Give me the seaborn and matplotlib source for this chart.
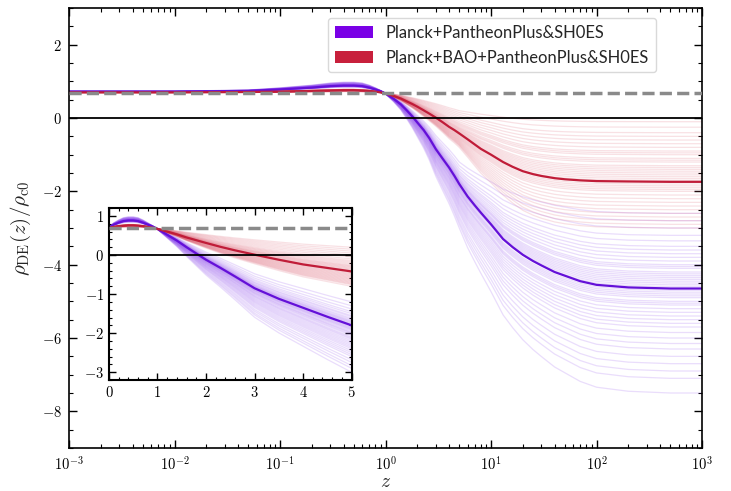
import numpy as np
import pandas as pd
import matplotlib
matplotlib.use("Agg")
import matplotlib.pyplot as plt
import seaborn as sns
from matplotlib.patches import Patch
from matplotlib.ticker import FuncFormatter, MultipleLocator, FixedLocator, NullFormatter

# ---------------- data ----------------
z_grid = [0.001, 0.01, 0.05, 0.1, 0.2, 0.3, 0.4, 0.5, 0.6, 0.7, 0.8, 0.9, 1.0,
          1.2, 1.4, 1.6, 1.8, 2.0, 2.3, 2.6, 3.0, 3.5, 4.0, 4.5, 5.0, 6.0, 7.0,
          8.0, 10.0, 13.0, 16.0, 20.0, 25.0, 30.0, 40.0, 50.0, 70.0, 100.0,
          200.0, 500.0, 1000.0]

purple_median = [0.72, 0.72, 0.74, 0.78, 0.83, 0.87, 0.885, 0.885, 0.87, 0.83,
                 0.78, 0.73, 0.67, 0.52, 0.37, 0.20, 0.04, -0.12, -0.33, -0.55,
                 -0.85, -1.12, -1.35, -1.58, -1.80, -2.14, -2.38, -2.58, -2.90,
                 -3.30, -3.52, -3.73, -3.90, -4.02, -4.20, -4.30, -4.45, -4.55,
                 -4.62, -4.65, -4.65]

red_median = [0.70, 0.70, 0.71, 0.72, 0.74, 0.75, 0.76, 0.76, 0.75, 0.74, 0.72,
              0.70, 0.67, 0.60, 0.53, 0.45, 0.38, 0.31, 0.21, 0.12, 0.01, -0.12,
              -0.24, -0.33, -0.42, -0.58, -0.72, -0.84, -1.00, -1.20, -1.33,
              -1.45, -1.53, -1.58, -1.64, -1.67, -1.70, -1.72, -1.73, -1.74, -1.74]

# posterior sample curves: value at z = 5 (inset) and high-z plateau (main panel)
purple_z5 = [-1.2, -1.3, -1.38, -1.45, -1.5, -1.55, -1.58, -1.62, -1.65, -1.68,
             -1.7, -1.72, -1.74, -1.76, -1.78, -1.8, -1.82, -1.84, -1.86, -1.88,
             -1.9, -1.92, -1.95, -1.98, -2.0, -2.03, -2.06, -2.1, -2.13, -2.16,
             -2.2, -2.24, -2.28, -2.32, -2.36, -2.4, -2.45, -2.5, -2.55, -2.6,
             -2.68, -2.75, -2.83, -2.9, -3.0]
purple_final = [-2.6, -2.8, -3.0, -3.2, -3.35, -3.5, -3.6, -3.7, -3.8, -3.9, -4.0,
                -4.05, -4.1, -4.2, -4.25, -4.3, -4.35, -4.4, -4.45, -4.5, -4.55,
                -4.6, -4.7, -4.75, -4.8, -4.85, -4.9, -5.0, -5.05, -5.1, -5.2,
                -5.3, -5.4, -5.5, -5.6, -5.7, -5.85, -6.0, -6.15, -6.3, -6.5,
                -6.7, -6.9, -7.1, -7.5]
red_z5 = [0.2, 0.15, 0.1, 0.05, 0.0, -0.05, -0.1, -0.14, -0.17, -0.2, -0.23,
          -0.26, -0.28, -0.3, -0.32, -0.34, -0.36, -0.38, -0.4, -0.42, -0.44,
          -0.46, -0.48, -0.5, -0.52, -0.54, -0.56, -0.58, -0.6, -0.62, -0.64,
          -0.66, -0.68, -0.7, -0.72, -0.74, -0.76, -0.8]
red_final = [-0.1, -0.25, -0.4, -0.5, -0.6, -0.7, -0.8, -0.9, -0.95, -1.0, -1.1,
             -1.15, -1.2, -1.3, -1.35, -1.4, -1.45, -1.5, -1.55, -1.6, -1.65,
             -1.7, -1.75, -1.8, -1.85, -1.9, -1.95, -2.0, -2.1, -2.2, -2.3, -2.4,
             -2.5, -2.6, -2.7, -2.8, -2.9, -3.0]

omega_de = 0.69
labels = ["Planck+PantheonPlus&SH0ES", "Planck+BAO+PantheonPlus&SH0ES"]
x_major = [1e-3, 1e-2, 1e-1, 1e0, 1e1, 1e2, 1e3]

# ---------------- build tables ----------------
z_arr = np.array(z_grid)
i5 = z_grid.index(5.0)


def samples_table(median, v5s, finals):
    med = np.array(median)
    rows = []
    for i, (v5, f) in enumerate(zip(v5s, finals)):
        s_lo = (v5 - omega_de) / (med[i5] - omega_de)
        lo = omega_de + (med - omega_de) * s_lo
        s_hi = (f - v5) / (med[-1] - med[i5])
        hi = v5 + (med - med[i5]) * s_hi
        vals = np.where(z_arr <= 5.0, lo, hi)
        rows.append(pd.DataFrame({"z": z_arr, "rho": vals, "sample": i}))
    return pd.concat(rows, ignore_index=True)


df_pur = samples_table(purple_median, purple_z5, purple_final)
df_red = samples_table(red_median, red_z5, red_final)
df_med = pd.DataFrame({"z": z_arr, "purple": purple_median, "red": red_median})

# ---------------- style ----------------
sns.set_theme(style="ticks")
plt.rcParams["font.family"] = ["DejaVu Serif"]
plt.rcParams["mathtext.fontset"] = "cm"

c_pur_light = "#8b45ee"
c_pur_med = "#6410d8"
c_red_light = "#d8465c"
c_red_med = "#c01c38"
c_pur_patch = "#7a00e6"
c_red_patch = "#c8203c"

fig = plt.figure(figsize=(7.31, 4.91), dpi=100)
ax = fig.add_axes([0.0944, 0.0876, 0.866, 0.896])


def draw(axis, zmax=None):
    dp, dr, dm = df_pur, df_red, df_med
    if zmax is not None:
        dp = dp[dp.z <= zmax]
        dr = dr[dr.z <= zmax]
        dm = dm[dm.z <= zmax]
    sns.lineplot(data=dp, x="z", y="rho", units="sample", estimator=None,
                 color=c_pur_light, alpha=0.18, lw=0.9, ax=axis, legend=False)
    sns.lineplot(data=dr, x="z", y="rho", units="sample", estimator=None,
                 color=c_red_light, alpha=0.16, lw=0.9, ax=axis, legend=False)
    sns.lineplot(data=dm, x="z", y="purple", color=c_pur_med, lw=1.6, ax=axis)
    sns.lineplot(data=dm, x="z", y="red", color=c_red_med, lw=1.6, ax=axis)
    axis.axhline(0, color="black", lw=1.3, zorder=5)
    axis.axhline(omega_de, color="#8a8a8a", lw=2.5, ls=(0, (3.5, 1.5)), zorder=5)


draw(ax)
ax.set_xscale("log")
ax.set_xlim(1e-3, 1e3)
ax.set_ylim(-9, 3)
minor_x = [m * d for d in x_major[:-1] for m in range(2, 10)]
ax.xaxis.set_major_locator(FixedLocator(x_major))
ax.xaxis.set_minor_locator(FixedLocator(minor_x))
ax.xaxis.set_minor_formatter(NullFormatter())
ax.xaxis.set_major_formatter(FuncFormatter(lambda v, p: r"$10^{%d}$" % round(np.log10(v))))
ax.yaxis.set_major_locator(MultipleLocator(2))
ax.yaxis.set_minor_locator(MultipleLocator(0.5))
ax.yaxis.set_major_formatter(FuncFormatter(lambda v, p: r"$%d$" % round(v)))
ax.tick_params(which="both", direction="in", top=True, right=True, colors="black")
ax.tick_params(which="major", length=6, width=1.0, labelsize=10.5, pad=5)
ax.tick_params(which="minor", length=3, width=0.8)
ax.set_xlabel(r"$z$", fontsize=14, labelpad=0)
ax.set_ylabel(r"$\rho_{\rm DE}(z)/\rho_{\rm c0}$", fontsize=15, labelpad=6)
for sp in ax.spines.values():
    sp.set_color("black")
    sp.set_linewidth(1.2)

handles = [Patch(facecolor=c_pur_patch, edgecolor="none", label=labels[0]),
           Patch(facecolor=c_red_patch, edgecolor="none", label=labels[1])]
leg = ax.legend(handles=handles, loc="upper right", bbox_to_anchor=(0.927, 0.977),
                borderaxespad=0, prop={"family": "Lato", "size": 11.9},
                handlelength=2.3, handleheight=0.8, frameon=True, fancybox=True,
                framealpha=1.0, edgecolor="0.85", labelspacing=0.55)

# ---------------- inset ----------------
axi = fig.add_axes([0.149, 0.226, 0.332, 0.350])
draw(axi, zmax=5.0)
axi.set_xlim(0, 5)
axi.set_ylim(-3.2, 1.2)
axi.xaxis.set_major_locator(MultipleLocator(1))
axi.xaxis.set_minor_locator(MultipleLocator(0.2))
axi.yaxis.set_major_locator(MultipleLocator(1))
axi.yaxis.set_minor_locator(MultipleLocator(0.2))
axi.xaxis.set_major_formatter(FuncFormatter(lambda v, p: r"$%d$" % round(v)))
axi.yaxis.set_major_formatter(FuncFormatter(lambda v, p: r"$%d$" % round(v)))
axi.tick_params(which="both", direction="in", top=True, right=True, colors="black")
axi.tick_params(which="major", length=5, width=1.0, labelsize=10.5)
axi.tick_params(which="minor", length=2.5, width=0.8)
axi.set_xlabel("")
axi.set_ylabel("")
for sp in axi.spines.values():
    sp.set_color("black")
    sp.set_linewidth(1.5)

fig.savefig("out.png", dpi=100)
